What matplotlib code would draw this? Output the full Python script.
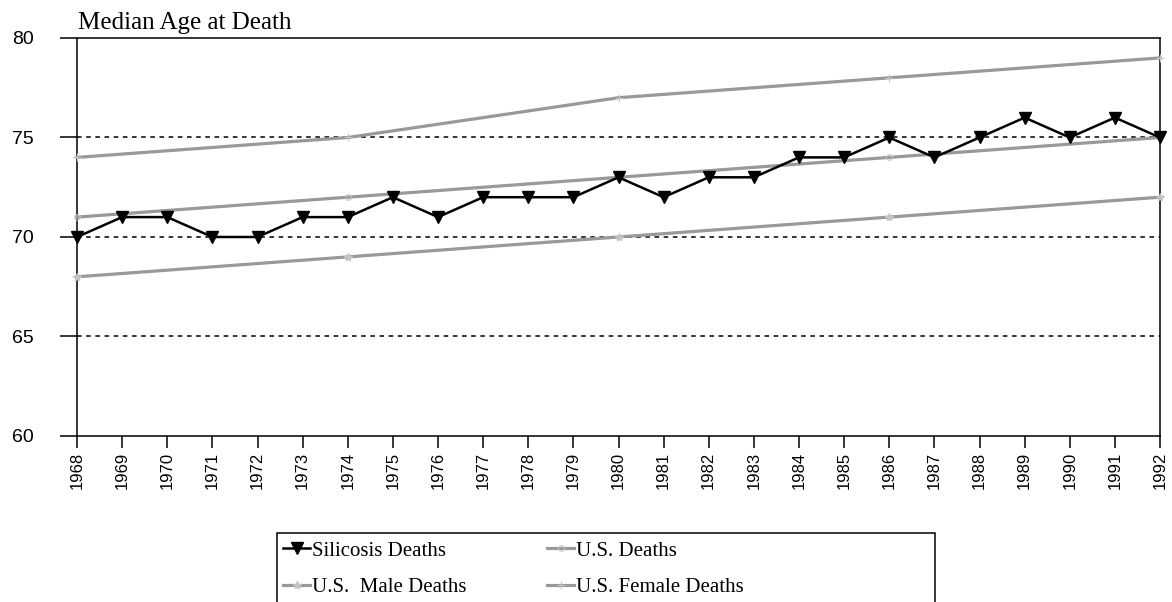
import matplotlib
matplotlib.use("Agg")
import matplotlib.pyplot as plt
from matplotlib.patches import Rectangle

# data
years = list(range(1968, 1993))
silicosis = [70, 71, 71, 70, 70, 71, 71, 72, 71, 72, 72, 72, 73,
             72, 73, 73, 74, 74, 75, 74, 75, 76, 75, 76, 75]
us_years = [1968, 1974, 1980, 1986, 1992]
us_deaths = [71, 72, 73, 74, 75]
us_male = [68, 69, 70, 71, 72]
us_female = [74, 75, 77, 78, 79]
yticks = [60, 65, 70, 75, 80]

W, H = 1172, 602
fig = plt.figure(figsize=(W / 100, H / 100), dpi=100)
ax = fig.add_axes([77 / W, 1 - 436 / H, (1160 - 77) / W, (436 - 38) / H])

gray = "#999999"
mgray = "#c4c4c4"
sil, = ax.plot(years, silicosis, color="black", lw=1.8, marker="v", ms=9,
               label="Silicosis Deaths", clip_on=False, zorder=4)
usd, = ax.plot(us_years, us_deaths, color=gray, lw=2.3, marker="o", ms=4,
               mfc="none", mec=mgray, mew=0.8, label="U.S. Deaths", clip_on=False, zorder=3)
usm, = ax.plot(us_years, us_male, color=gray, lw=2.3, marker="*", ms=6,
               mfc=mgray, mec=mgray, label="U.S.  Male Deaths", clip_on=False, zorder=3)
usf, = ax.plot(us_years, us_female, color=gray, lw=2.3, marker="+", ms=6,
               mec=mgray, mew=0.8, label="U.S. Female Deaths", clip_on=False, zorder=3)

ax.set_xlim(1968, 1992)
ax.set_ylim(60, 80)
ax.set_xticks(years)
ax.set_xticklabels([str(y) for y in years], rotation=90,
                   family="Liberation Sans", fontsize=12)
ax.set_yticks(yticks)
ax.set_yticklabels([str(v) for v in yticks], family="Liberation Sans", fontsize=14)
ax.tick_params(axis="y", direction="out", length=12, width=1.1, pad=19)
ax.tick_params(axis="x", direction="out", length=8.5, width=1.1, pad=3)

for v in [65, 70, 75]:
    ax.axhline(v, color="black", lw=1.1, ls=(0, (3, 3)), zorder=1)
for s in ax.spines.values():
    s.set_linewidth(1.1)

fig.text(78 / W, 1 - 29 / H, "Median Age at Death", family="Liberation Serif",
         fontsize=18, ha="left", va="baseline")

# legend with a frame that runs off the bottom like the original
fig.patches.append(Rectangle((277 / W, -0.05), (935 - 277) / W, 1 - 533 / H + 0.05,
                             transform=fig.transFigure, fill=False,
                             edgecolor="black", lw=1.1))
fig.legend([sil, usm, usd, usf],
           ["Silicosis Deaths", "U.S.  Male Deaths", "U.S. Deaths", "U.S. Female Deaths"],
           ncol=2, loc="upper left", bbox_to_anchor=(279 / W, 1 - 537 / H),
           frameon=False, prop={"family": "Liberation Serif", "size": 15},
           handlelength=1.3, handletextpad=0.1, columnspacing=3.85,
           labelspacing=0.8, borderaxespad=0, borderpad=0.2)

fig.savefig("out.png", dpi=100)
